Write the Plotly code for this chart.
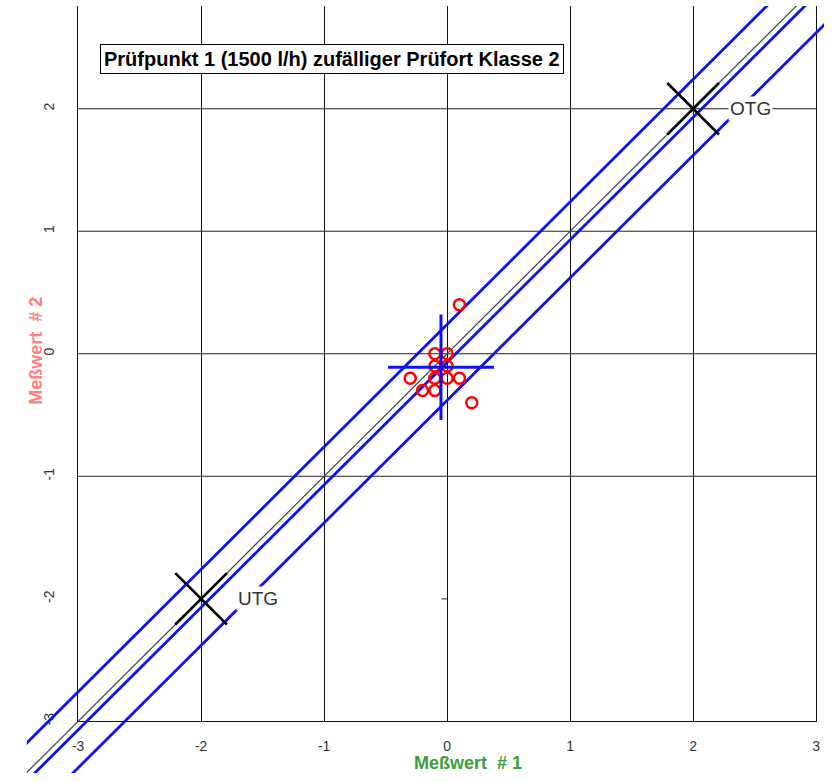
import plotly.graph_objects as go

# ---------------- data ----------------
pts_x = [0.1, -0.1, 0.0, -0.1, 0.0, -0.3, -0.1, 0.0, 0.1, -0.2, -0.1, 0.2]
pts_y = [0.4, 0.0, 0.0, -0.1, -0.1, -0.2, -0.2, -0.2, -0.2, -0.3, -0.3, -0.4]

band_offsets = [0.24, -0.07, -0.38]          # blue lines y = x + c
limit_values = [2, -2]                        # OTG / UTG
limit_labels = ["OTG", "UTG"]
limit_half = 0.21                             # half arm of limit X marks
cross_center = (-0.05, -0.11)                 # mean marker
cross_half = 0.43

tick_vals = [-3, -2, -1, 0, 1, 2, 3]
tick_text = ["-3", "-2", "-1", "0", "1", "2", "3"]
hgrid_vals = [-1, 0, 1, 2]

title_text = "Prüfpunkt 1 (1500 l/h) zufälliger Prüfort Klasse 2"
xlabel = "Meßwert  # 1"
ylabel = "Meßwert  # 2"

# ---------------- geometry (pixels) ----------------
W, H = 832, 782
px_xm3, px_x3 = 73.0, 820.0        # x=-3, x=3
px_ym3, px_y2 = 725.0, 109.3       # y=-3, y=2
px_top = 6.0
clip_l, clip_r, clip_b = 21.0, 828.0, 777.0

sx = (px_x3 - px_xm3) / 6.0
sy = (px_ym3 - px_y2) / 5.0
y_top = 2 + (px_y2 - px_top) / sy

def fx(px):
    return px / W

def fy(py):
    return (H - py) / H

x2_range = [-3 + (clip_l - px_xm3) / sx, 3 + (clip_r - px_x3) / sx]
y2_range = [-3 - (clip_b - px_ym3) / sy, y_top]

FONT = "Liberation Sans, Arial, sans-serif"
BLUE = "#1010F0"

fig = go.Figure()

fig.add_trace(go.Scatter(x=[None], y=[None], xaxis="x", yaxis="y",
                         showlegend=False, hoverinfo="skip"))

xe = [x2_range[0] - 1, x2_range[1] + 1]
fig.add_trace(go.Scatter(x=xe, y=xe, mode="lines", xaxis="x2", yaxis="y2",
                         line=dict(color="#444444", width=1.2),
                         showlegend=False, hoverinfo="skip"))

for c in band_offsets:
    fig.add_trace(go.Scatter(x=xe, y=[v + c for v in xe], mode="lines",
                             xaxis="x2", yaxis="y2",
                             line=dict(color=BLUE, width=2.8),
                             showlegend=False, hoverinfo="skip"))

for v in limit_values:
    fig.add_trace(go.Scatter(x=[v - limit_half, v + limit_half, None, v - limit_half, v + limit_half],
                             y=[v - limit_half, v + limit_half, None, v + limit_half, v - limit_half],
                             mode="lines", xaxis="x2", yaxis="y2",
                             line=dict(color="black", width=2.6),
                             showlegend=False, hoverinfo="skip"))

fig.add_trace(go.Scatter(x=pts_x, y=pts_y, mode="markers", xaxis="x2", yaxis="y2",
                         marker=dict(symbol="circle-open", size=11, color="#FF0000",
                                     line=dict(width=2.5, color="#FF0000")),
                         showlegend=False, hoverinfo="skip"))

cx, cy = cross_center
fig.add_trace(go.Scatter(x=[cx - cross_half, cx + cross_half, None, cx, cx],
                         y=[cy, cy, None, cy - cross_half, cy + cross_half],
                         mode="lines", xaxis="x2", yaxis="y2",
                         line=dict(color=BLUE, width=3),
                         showlegend=False, hoverinfo="skip"))

shapes = []
for v in hgrid_vals:
    shapes.append(dict(type="line", xref="x", yref="y", x0=-3, x1=3, y0=v, y1=v,
                       line=dict(color="#222222", width=1), layer="below"))
shapes.append(dict(type="line", xref="x", yref="y", x0=-0.045, x1=0, y0=-2, y1=-2,
                   line=dict(color="#555555", width=1.2), layer="below"))

annotations = [
    dict(text="<b>" + title_text + "</b>", xref="paper", yref="paper",
         x=fx(330), y=fy(59), showarrow=False, xanchor="center", yanchor="middle",
         font=dict(family=FONT, size=20, color="black"),
         bgcolor="white", bordercolor="black", borderwidth=1, borderpad=3),
    dict(text="<b>" + xlabel + "</b>", xref="paper", yref="paper",
         x=fx(468), y=fy(767), showarrow=False, xanchor="center", yanchor="middle",
         font=dict(family=FONT, size=18, color="#3A9E3A")),
    dict(text="<b>" + ylabel + "</b>", xref="paper", yref="paper",
         x=fx(31), y=fy(353), showarrow=False, xanchor="center", yanchor="middle",
         textangle=-90, font=dict(family=FONT, size=18, color="#FF8080")),
]
for v, lab in zip(limit_values, limit_labels):
    annotations.append(dict(text=lab, xref="x2", yref="y2", x=v + 0.28, y=v,
                            showarrow=False, xanchor="left", yanchor="middle",
                            font=dict(family=FONT, size=19, color="#333333"),
                            bgcolor="white", borderpad=1))

fig.update_layout(
    width=W, height=H,
    margin=dict(l=0, r=0, t=0, b=0),
    paper_bgcolor="white", plot_bgcolor="rgba(0,0,0,0)",
    showlegend=False,
    xaxis=dict(domain=[fx(px_xm3), fx(px_x3)], range=[-3, 3], anchor="y",
               tickvals=tick_vals, ticktext=tick_text, showgrid=True,
               gridcolor="#111111", gridwidth=1, zeroline=False,
               showline=True, linecolor="#111111", linewidth=1, mirror=False,
               ticks="", ticklabelstandoff=12,
               tickfont=dict(family=FONT, size=14, color="#333333")),
    yaxis=dict(domain=[fy(px_ym3), fy(px_top)], range=[-3, y_top], anchor="x",
               tickvals=tick_vals, ticktext=tick_text, showgrid=False,
               zeroline=False, showline=True, linecolor="#111111", linewidth=1,
               mirror=True, ticks="", tickangle=-90, ticklabelstandoff=18,
               tickfont=dict(family=FONT, size=14, color="#333333")),
    xaxis2=dict(domain=[fx(clip_l), fx(clip_r)], range=x2_range, anchor="y2",
                visible=False, showgrid=False, zeroline=False),
    yaxis2=dict(domain=[fy(clip_b), fy(px_top)], range=y2_range, anchor="x2",
                visible=False, showgrid=False, zeroline=False),
    shapes=shapes,
    annotations=annotations,
)

fig.write_html("out.html")
